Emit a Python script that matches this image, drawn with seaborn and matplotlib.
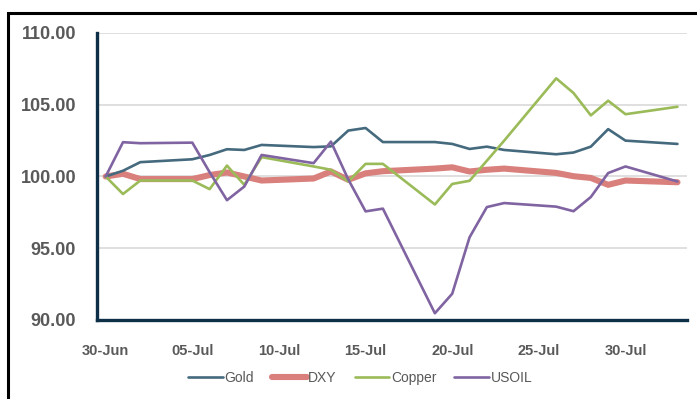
import pandas as pd
import matplotlib
matplotlib.use('Agg')
import matplotlib.pyplot as plt
import matplotlib.dates as mdates
import matplotlib.ticker as mticker
from matplotlib.patches import Rectangle
import seaborn as sns

# Données (base 100 au 30-Jun)
dates = ['2021-06-30', '2021-07-01', '2021-07-02', '2021-07-05', '2021-07-06',
         '2021-07-07', '2021-07-08', '2021-07-09', '2021-07-12', '2021-07-13',
         '2021-07-14', '2021-07-15', '2021-07-16', '2021-07-19', '2021-07-20',
         '2021-07-21', '2021-07-22', '2021-07-23', '2021-07-26', '2021-07-27',
         '2021-07-28', '2021-07-29', '2021-07-30', '2021-08-02']
gold = [100.0, 100.4, 101.0, 101.2, 101.5, 101.9, 101.85, 102.2, 102.05, 102.1,
        103.2, 103.38, 102.4, 102.4, 102.27, 101.92, 102.08, 101.85, 101.55, 101.67,
        102.08, 103.3, 102.5, 102.27]
dxy = [100.0, 100.19, 99.82, 99.82, 100.1, 100.28, 100.0, 99.72, 99.86, 100.35,
       99.77, 100.22, 100.37, 100.55, 100.64, 100.35, 100.47, 100.55, 100.25, 100.02,
       99.9, 99.42, 99.72, 99.6]
copper = [100.0, 98.78, 99.72, 99.72, 99.12, 100.76, 99.42, 101.35, 100.7, 100.47,
          99.65, 100.88, 100.88, 98.05, 99.48, 99.7, 101.1, 102.5, 106.84, 105.82,
          104.26, 105.28, 104.34, 104.86]
usoil = [100.0, 102.39, 102.32, 102.36, 100.3, 98.35, 99.3, 101.5, 100.93, 102.43,
         99.8, 97.57, 97.76, 90.47, 91.83, 95.76, 97.87, 98.15, 97.9, 97.58,
         98.57, 100.24, 100.7, 99.65]

series = {'Gold': gold, 'DXY': dxy, 'Copper': copper, 'USOIL': usoil}
couleurs = {'Gold': '#456A7E', 'DXY': '#D9807D', 'Copper': '#9BBB59', 'USOIL': '#8064A2'}
epaisseurs = {'Gold': 1.9, 'DXY': 4.4, 'Copper': 1.9, 'USOIL': 1.9}

data = pd.DataFrame({'date': pd.to_datetime(dates)})
for nom, valeurs in series.items():
    data[nom] = valeurs
data_long = data.melt(id_vars='date', var_name='serie', value_name='valeur')

sns.set_style('white')
plt.rcParams['font.family'] = ['Liberation Sans', 'DejaVu Sans']

fig = plt.figure(figsize=(6.97, 3.99), dpi=100)
ax = fig.add_axes([97 / 697, 1 - 320 / 399, 590 / 697, 287 / 399])

for nom in series:
    sns.lineplot(x='date', y='valeur', data=data_long[data_long['serie'] == nom],
                 color=couleurs[nom], linewidth=epaisseurs[nom], label=nom, ax=ax,
                 zorder=3 if nom != 'DXY' else 2)

# Axes
debut = mdates.date2num(pd.Timestamp('2021-06-30'))
ax.set_xlim(debut - 0.5, debut + 33.55)
ax.set_ylim(90, 110)
ax.set_yticks([90, 95, 100, 105, 110])
ax.yaxis.set_major_formatter(mticker.FormatStrFormatter('%.2f'))
ax.set_xticks([debut + 5 * i for i in range(7)])
ax.set_xticklabels(['30-Jun', '05-Jul', '10-Jul', '15-Jul', '20-Jul', '25-Jul', '30-Jul'])
ax.xaxis.set_minor_locator(mticker.FixedLocator([debut + 4.5 + 5 * i for i in range(6)]))
ax.set_xlabel('')
ax.set_ylabel('')

ax.grid(axis='y', color='#D9D9D9', linewidth=1.2)
ax.set_axisbelow(True)
for cote in ['top', 'right']:
    ax.spines[cote].set_visible(False)
for cote in ['left', 'bottom']:
    ax.spines[cote].set_color('#0E2F48')
    ax.spines[cote].set_linewidth(2.4)
    ax.spines[cote].set_zorder(4)

ax.tick_params(axis='y', length=0, pad=15, labelsize=13, labelcolor='#595959')
ax.tick_params(axis='x', which='major', length=0, pad=17, labelsize=10.5, labelcolor='#595959')
ax.tick_params(axis='x', which='minor', direction='in', length=4, width=2, color='#0E2F48')
for t in ax.get_xticklabels() + ax.get_yticklabels():
    t.set_fontweight('bold')

# Légende en bas
handles, labels = ax.get_legend_handles_labels()
ax.legend_.remove()
leg = fig.legend(handles, labels, loc='center', bbox_to_anchor=(0.517, 1 - 378 / 399),
                 ncol=4, frameon=False, fontsize=10, handlelength=2.5, handletextpad=0.1,
                 columnspacing=1.3, labelcolor='#595959')

# Cadre
fig.patches.append(Rectangle((8 / 697, -0.2), 1.2, 1.2 + (1 - 13 / 399) - 1.0,
                             transform=fig.transFigure, fill=False,
                             edgecolor='black', linewidth=2.2))

fig.savefig('out.png', dpi=100)
